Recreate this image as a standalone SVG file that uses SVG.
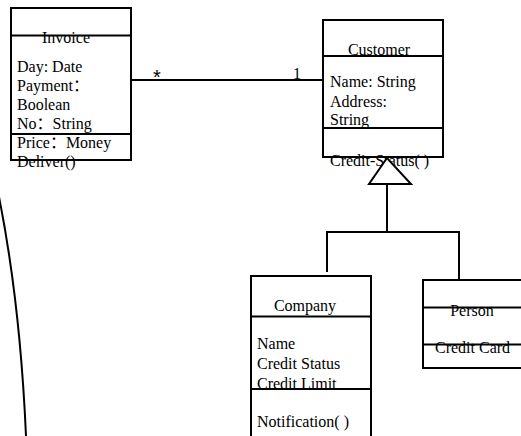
<svg xmlns="http://www.w3.org/2000/svg" width="521" height="436" viewBox="0 0 521 436">
<style>
.box{fill:#fff;stroke:#000;stroke-width:2}
.ln{fill:none;stroke:#000;stroke-width:2}
text{font-family:"Liberation Serif","Noto Sans CJK SC",serif;font-size:16px;fill:#000}
.c{text-anchor:middle}
</style>
<rect width="521" height="436" fill="#fff"/>
<g id="connectors">
<line class="ln" x1="131" y1="80" x2="323" y2="80"/>
<text x="157" y="83.5" class="c" style="font-family:'Liberation Sans',sans-serif;font-size:20px">*</text>
<text x="297" y="79" class="c" font-size="15">1</text>
<polyline class="ln" points="387,184 387,232 327,232 327,272"/>
<polyline class="ln" points="387,232 459,232 459,280"/>
<path class="ln" d="M-2,192 Q20,300 26,436"/>
</g>
<g id="invoice">
<rect class="box" x="11" y="8" width="120" height="152"/>
<line class="ln" x1="11" y1="35.5" x2="131" y2="35.5"/>
<line class="ln" x1="11" y1="134" x2="131" y2="134"/>
<text x="66" y="43" class="c">Invoice</text>
<text x="17" y="72">Day: Date</text>
<text x="17" y="91">Payment：</text>
<text x="17" y="110">Boolean</text>
<text x="17" y="129">No：String</text>
<text x="17" y="148">Price：Money</text>
<text x="17" y="167">Deliver()</text>
</g>
<g id="customer">
<rect class="box" x="323" y="20" width="120" height="137"/>
<line class="ln" x1="323" y1="56" x2="443" y2="56"/>
<line class="ln" x1="323" y1="128" x2="443" y2="128"/>
<text x="379" y="55" class="c">Customer</text>
<text x="330" y="87">Name: String</text>
<text x="330" y="107">Address:</text>
<text x="330" y="125">String</text>
<text x="330" y="166">Credit-Status( )</text>
<polygon class="box" points="387,158 369,184 411,184"/>
</g>
<g id="company">
<rect class="box" x="251" y="276" width="120" height="170"/>
<line class="ln" x1="251" y1="316.5" x2="371" y2="316.5"/>
<line class="ln" x1="251" y1="389" x2="371" y2="389"/>
<text x="305" y="311" class="c">Company</text>
<text x="257" y="349">Name</text>
<text x="257" y="369">Credit Status</text>
<text x="257" y="389">Credit Limit</text>
<text x="257" y="427">Notification( )</text>
</g>
<g id="person">
<rect class="box" x="423" y="280" width="110" height="88"/>
<line class="ln" x1="423" y1="307.5" x2="533" y2="307.5"/>
<line class="ln" x1="423" y1="344.5" x2="533" y2="344.5"/>
<text x="472" y="316" class="c">Person</text>
<text x="435" y="353">Credit Card</text>
</g>
</svg>
